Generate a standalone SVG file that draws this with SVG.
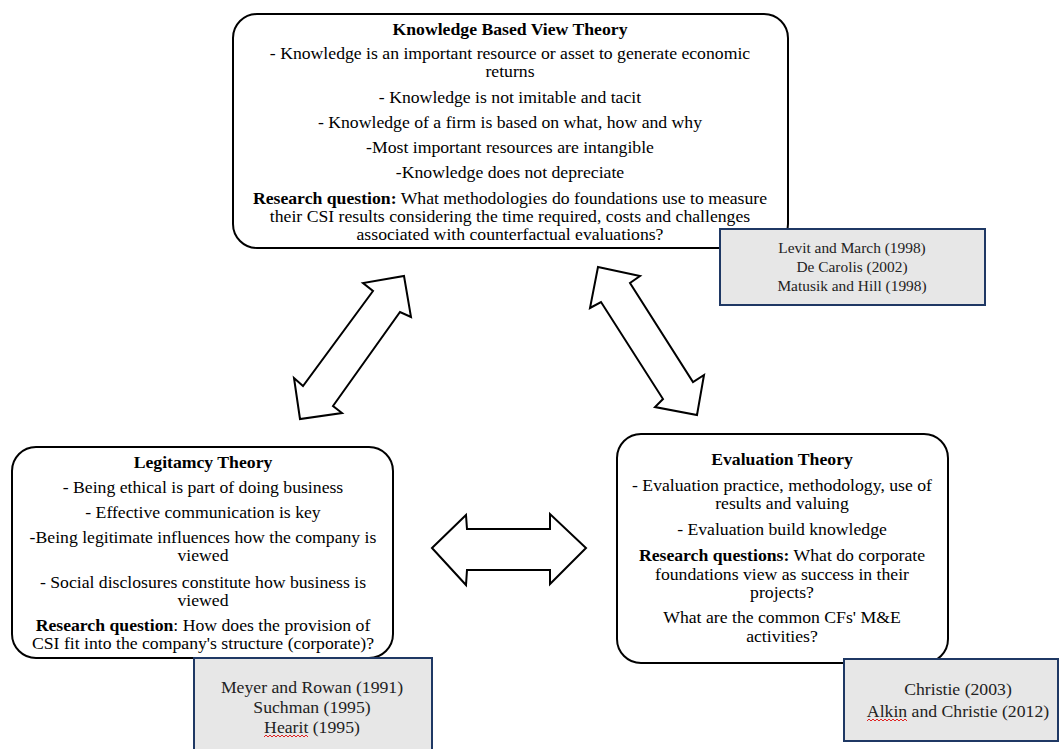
<svg xmlns="http://www.w3.org/2000/svg" width="1059" height="749" viewBox="0 0 1059 749">
  <style>
    .theory { fill: #ffffff; stroke: #000000; stroke-width: 2; }
    .refs { fill: #e7e7e7; stroke: #1f3864; stroke-width: 2; }
    .arrow { fill: #ffffff; stroke: #000000; stroke-width: 2; stroke-linejoin: miter; }
    text { font-family: "Liberation Serif", "Times New Roman", serif; font-size: 17.7px; fill: #000000; text-anchor: middle; }
    .ref-text { fill: #222222; }
    .small { font-size: 15.4px; }
    .b { font-weight: bold; }
    .squiggle { fill: none; stroke: #e02020; stroke-width: 1; }
  </style>

  <rect width="1059" height="749" fill="#ffffff"/>

  <!-- block arrows between the three theories -->
  <g id="connectors">
    <polygon class="arrow" points="404,276 411,317 400,312 333,406 342,413 300,419 294,378 303,386 373,291 363,283"/>
    <polygon class="arrow" points="598,267 640,276 630,283 693,382 704,375 697,415 655,407 663,399 601,302 590,308"/>
    <polygon class="arrow" points="432,548 466,515 467,529 550,529 550,514 586,548 550,584 550,570 467,570 466,585"/>
  </g>

  <!-- Knowledge Based View Theory -->
  <g id="kbv-theory">
    <rect class="theory" x="233" y="14" width="555" height="234" rx="24"/>
    <text x="510" y="35" class="b">Knowledge Based View Theory</text>
    <text x="510" y="59">- Knowledge is an important resource or asset to generate economic<tspan x="510" dy="18">returns</tspan></text>
    <text x="510" y="103">- Knowledge is not imitable and tacit</text>
    <text x="510" y="128">- Knowledge of a firm is based on what, how and why</text>
    <text x="510" y="153">-Most important resources are intangible</text>
    <text x="510" y="178">-Knowledge does not depreciate</text>
    <text x="510" y="204"><tspan class="b">Research question:</tspan> What methodologies do foundations use to measure<tspan x="510" dy="18">their CSI results considering the time required, costs and challenges</tspan><tspan x="510" dy="18">associated with counterfactual evaluations?</tspan></text>
  </g>

  <g id="kbv-refs">
    <rect class="refs" x="720" y="229" width="265" height="76"/>
    <text x="852" y="253" class="ref-text small">Levit and March (1998)<tspan x="852" dy="19">De Carolis (2002)</tspan><tspan x="852" dy="19">Matusik and Hill (1998)</tspan></text>
  </g>

  <!-- Legitimacy Theory -->
  <g id="legitimacy-theory">
    <rect class="theory" x="12" y="447" width="381" height="211" rx="24"/>
    <text x="203" y="468" class="b">Legitamcy Theory</text>
    <text x="203" y="493">- Being ethical is part of doing business</text>
    <text x="203" y="518">- Effective communication is key</text>
    <text x="203" y="543">-Being legitimate influences how the company is<tspan x="203" dy="18">viewed</tspan></text>
    <text x="203" y="588">- Social disclosures constitute how business is<tspan x="203" dy="18">viewed</tspan></text>
    <text x="203" y="631"><tspan class="b">Research question</tspan>: How does the provision of<tspan x="203" dy="18">CSI fit into the company's structure (corporate)?</tspan></text>
  </g>

  <g id="legitimacy-refs">
    <rect class="refs" x="194" y="658" width="238" height="95"/>
    <text x="312" y="693" class="ref-text">Meyer and Rowan (1991)<tspan x="312" dy="20">Suchman (1995)</tspan><tspan x="312" dy="20">Hearit (1995)</tspan></text>
    <path class="squiggle" d="M264,737 l2,-2 l2,2 l2,-2 l2,2 l2,-2 l2,2 l2,-2 l2,2 l2,-2 l2,2 l2,-2 l2,2 l2,-2 l2,2 l2,-2 l2,2 l2,-2 l2,2 l2,-2 l2,2 l2,-2 l2,2"/>
  </g>

  <!-- Evaluation Theory -->
  <g id="evaluation-theory">
    <rect class="theory" x="617" y="434" width="331" height="229" rx="24"/>
    <text x="782" y="465" class="b">Evaluation Theory</text>
    <text x="782" y="491">- Evaluation practice, methodology, use of<tspan x="782" dy="18">results and valuing</tspan></text>
    <text x="782" y="535">- Evaluation build knowledge</text>
    <text x="782" y="561"><tspan class="b">Research questions:</tspan> What do corporate<tspan x="782" dy="19">foundations view as success in their</tspan><tspan x="782" dy="18">projects?</tspan></text>
    <text x="782" y="623">What are the common CFs' M&amp;E<tspan x="782" dy="19">activities?</tspan></text>
  </g>

  <g id="evaluation-refs">
    <rect class="refs" x="844" y="659" width="214" height="82"/>
    <text x="958" y="695" class="ref-text">Christie (2003)<tspan x="958" dy="22">Alkin and Christie (2012)</tspan></text>
    <path class="squiggle" d="M867,721 l2,-2 l2,2 l2,-2 l2,2 l2,-2 l2,2 l2,-2 l2,2 l2,-2 l2,2 l2,-2 l2,2 l2,-2 l2,2 l2,-2 l2,2 l2,-2 l2,2 l2,-2 l2,2"/>
  </g>
</svg>
